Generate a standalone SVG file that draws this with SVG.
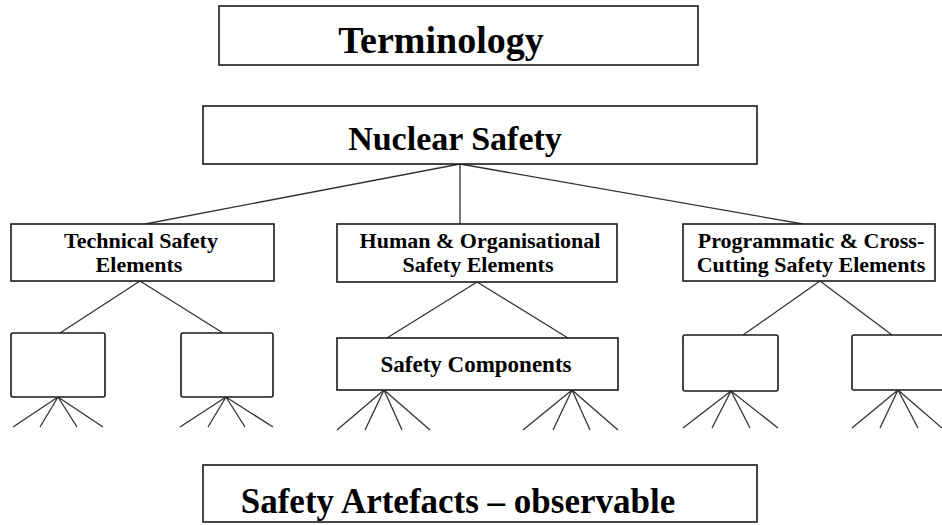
<svg xmlns="http://www.w3.org/2000/svg" width="942" height="525" viewBox="0 0 942 525">
<style>
.box{fill:#fff;stroke:#1a1a1a;stroke-width:1.6}
.t{font-family:"Liberation Serif","Times New Roman",serif;font-weight:bold;fill:#000}
.big{font-size:38px}
.mid{font-size:34px}
.sm{font-size:22px}
.ln{stroke:#333;stroke-width:1.3;fill:none}
</style>
<rect width="942" height="525" fill="#fff"/>
<g id="connectors">
<path class="ln" d="M460,164 L145,224 M460,164 L460,224 M460,164 L803,224"/>
<path class="ln" d="M140,281 L60,333 M140,281 L223,333"/>
<path class="ln" d="M477,282 L387,338 M477,282 L568,338"/>
<path class="ln" d="M820,281 L743,335 M820,281 L892,335"/>
<path class="ln" d="M58,397 L13,427 M58,397 L40,427 M58,397 L77,427 M58,397 L103,427"/>
<path class="ln" d="M226,397 L180,427 M226,397 L208,427 M226,397 L245,427 M226,397 L273,427"/>
<path class="ln" d="M384,390 L337,430 M384,390 L365,430 M384,390 L402,430 M384,390 L430,430"/>
<path class="ln" d="M572,390 L523,430 M572,390 L553,430 M572,390 L590,430 M572,390 L618,430"/>
<path class="ln" d="M731,391 L683,428 M731,391 L712,428 M731,391 L750,428 M731,391 L778,428"/>
<path class="ln" d="M898,390 L852,428 M898,390 L880,428 M898,390 L918,428 M898,390 L942,428"/>
</g>
<g id="terminology">
<rect class="box" x="219" y="6" width="479" height="59"/>
<text class="t big" x="441" y="53" text-anchor="middle">Terminology</text>
</g>
<g id="nuclear-safety">
<rect class="box" x="203" y="106" width="554" height="58"/>
<text class="t mid" x="455" y="150" text-anchor="middle">Nuclear Safety</text>
</g>
<g id="technical">
<rect class="box" x="11" y="224" width="263" height="57"/>
<text class="t sm" x="141" y="248" text-anchor="middle">Technical Safety</text>
<text class="t sm" x="139" y="272" text-anchor="middle">Elements</text>
</g>
<g id="human">
<rect class="box" x="337" y="224" width="280" height="58"/>
<text class="t sm" x="480" y="248" text-anchor="middle">Human &amp; Organisational</text>
<text class="t sm" x="478" y="272" text-anchor="middle">Safety Elements</text>
</g>
<g id="programmatic">
<rect class="box" x="683" y="224" width="252" height="57"/>
<text class="t sm" x="811" y="248" text-anchor="middle">Programmatic &amp; Cross-</text>
<text class="t sm" x="811" y="272" text-anchor="middle">Cutting Safety Elements</text>
</g>
<g id="tech-child-1"><rect class="box" x="11" y="333" width="94" height="64" rx="2"/></g>
<g id="tech-child-2"><rect class="box" x="181" y="333" width="92" height="64" rx="2"/></g>
<g id="safety-components">
<rect class="box" x="337" y="338" width="281" height="52"/>
<text class="t" font-size="23" x="476" y="372" text-anchor="middle">Safety Components</text>
</g>
<g id="prog-child-1"><rect class="box" x="683" y="335" width="95" height="56" rx="2"/></g>
<g id="prog-child-2"><rect class="box" x="852" y="335" width="96" height="55" rx="2"/></g>
<g id="safety-artefacts">
<rect class="box" x="203" y="465" width="554" height="57"/>
<text class="t" font-size="35" x="458" y="513" text-anchor="middle">Safety Artefacts – observable</text>
</g>
</svg>
